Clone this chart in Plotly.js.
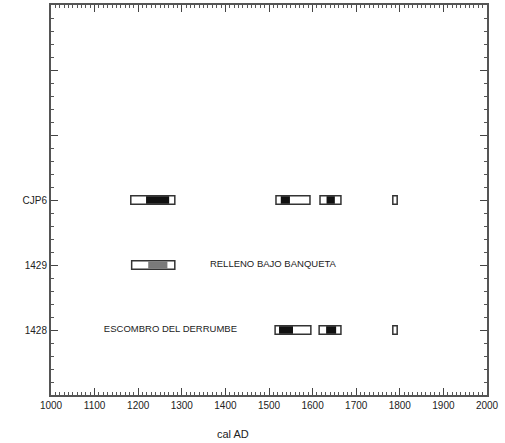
<!DOCTYPE html>
<html><head><meta charset="utf-8">
<script src="https://cdn.plot.ly/plotly-3.0.1.min.js"></script>
<style>html,body{margin:0;padding:0;background:#fff}#c{width:505px;height:443px}</style>
</head><body><div id="c"></div>
<script>
// Sample rows (bottom to top)
const rows = ['1428', '1429', 'CJP6'];
// Outer (95.4%) calibrated ranges, cal AD
const outerRow   = ['CJP6', 'CJP6', 'CJP6', 'CJP6', '1429', '1428', '1428', '1428'];
const outerStart = [1183, 1516, 1617, 1784, 1185, 1514, 1615, 1784];
const outerEnd   = [1284, 1594, 1665, 1794, 1284, 1596, 1665, 1794];
// Inner (68.2%) ranges
const innerRow   = ['CJP6', 'CJP6', 'CJP6', '1429', '1428', '1428'];
const innerStart = [1218, 1527, 1632, 1223, 1523, 1631];
const innerEnd   = [1271, 1548, 1651, 1267, 1555, 1654];
const innerShade = ['#111', '#111', '#111', '#7a7a7a', '#111', '#111'];
// Context labels
const labelText = ['RELLENO BAJO BANQUETA', 'ESCOMBRO DEL DERRUMBE'];
const labelRow  = ['1429', '1428'];
const labelX    = [1509, 1274];
const xTicks = [1000, 1100, 1200, 1300, 1400, 1500, 1600, 1700, 1800, 1900, 2000];
const yMajor = [1, 2, 3, 4, 5];

const yPos = r => rows.indexOf(r) + 1;
const font = '"Liberation Sans Narrow", "Liberation Sans", Arial, sans-serif';

const outer = {
  type: 'bar', orientation: 'h',
  y: outerRow.map(yPos), base: outerStart,
  x: outerStart.map((s, i) => outerEnd[i] - s),
  width: 0.13,
  marker: {color: '#ffffff', line: {color: '#333', width: 1.5}},
  hoverinfo: 'skip', showlegend: false
};
const inner = {
  type: 'bar', orientation: 'h',
  y: innerRow.map(yPos), base: innerStart,
  x: innerStart.map((s, i) => innerEnd[i] - s),
  width: 0.115,
  marker: {color: innerShade, line: {width: 0}},
  hoverinfo: 'skip', showlegend: false
};
const labels = {
  type: 'scatter', mode: 'text',
  x: labelX, y: labelRow.map(yPos), text: labelText,
  textfont: {family: font, size: 9.5, color: '#222'},
  hoverinfo: 'skip', showlegend: false
};

const layout = {
  width: 505, height: 443,
  margin: {l: 51, r: 18, t: 5, b: 48},
  paper_bgcolor: '#fff', plot_bgcolor: '#fff',
  barmode: 'overlay',
  font: {family: font, size: 10, color: '#222'},
  xaxis: {
    range: [1000, 2000], tickvals: xTicks, ticktext: xTicks.map(String),
    showline: true, mirror: 'allticks', linecolor: '#555', linewidth: 2,
    ticks: 'inside', ticklen: 7, tickwidth: 1, tickcolor: '#444',
    minor: {ticks: 'inside', dtick: 10, ticklen: 3, tickcolor: '#555'},
    showgrid: false, zeroline: false,
    tickfont: {family: font, size: 10, color: '#222'}
  },
  yaxis: {
    range: [0, 6], tickvals: yMajor, ticktext: rows.concat([' ', ' ']),
    showline: true, mirror: 'allticks', linecolor: '#555', linewidth: 2,
    ticks: 'inside', ticklen: 7, tickwidth: 1, tickcolor: '#444',
    minor: {ticks: 'inside', dtick: 0.2, ticklen: 3, tickcolor: '#555'},
    showgrid: false, zeroline: false,
    tickfont: {family: font, size: 10, color: '#222'}
  },
  annotations: [{
    text: 'cal AD', xref: 'x', yref: 'paper', x: 1417, y: -0.1,
    showarrow: false, font: {family: font, size: 11, color: '#222'},
    xanchor: 'center', yanchor: 'middle'
  }]
};

Plotly.newPlot('c', [outer, inner, labels], layout, {staticPlot: true, displayModeBar: false});
</script></body></html>
